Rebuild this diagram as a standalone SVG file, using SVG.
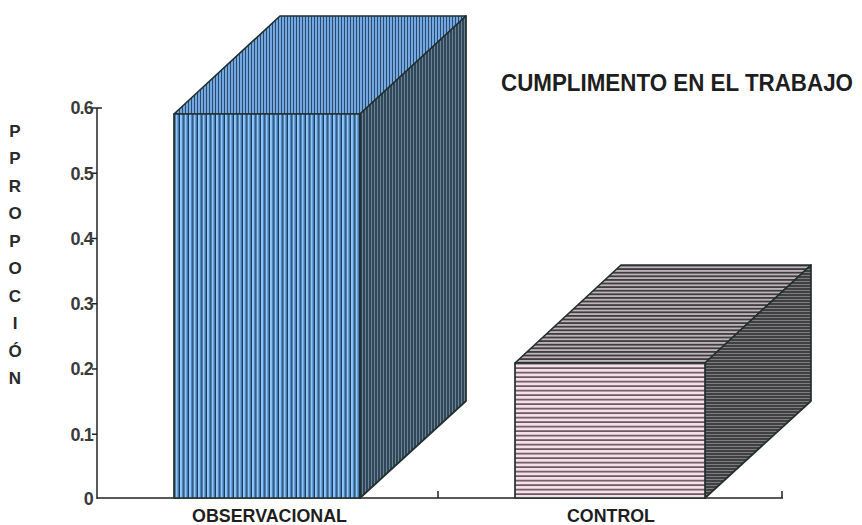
<svg xmlns="http://www.w3.org/2000/svg" width="862" height="525" viewBox="0 0 862 525">
<style>
.t{font-family:"Liberation Sans",Arial,sans-serif;font-weight:bold;fill:#1e1e1e}
.tick{font-size:18px;fill:#3a3a3a;text-anchor:end;letter-spacing:-0.8px}
.ylab{font-size:17px;text-anchor:middle;fill:#2a2a2a}
.edge{stroke:#22302e;stroke-width:1.7;stroke-linejoin:round}
.ax{stroke:#222;stroke-width:1.5;fill:none}
</style>
<defs>
<pattern id="bFront" width="4.5" height="10" patternUnits="userSpaceOnUse">
<rect width="4.5" height="10" fill="#92c8f4"/>
<rect x="2" width="1.2" height="10" fill="#3c82d0"/>
<rect x="3.2" width="1.3" height="10" fill="#1c3858"/>
</pattern>
<pattern id="bTop" width="3" height="10" patternUnits="userSpaceOnUse">
<rect width="3" height="10" fill="#74a8e0"/>
<rect x="2" width="1" height="10" fill="#2a4a70"/>
</pattern>
<pattern id="bSide" width="3" height="10" patternUnits="userSpaceOnUse">
<rect width="3" height="10" fill="#30475a"/>
<rect x="2" width="1" height="10" fill="#6a8496"/>
</pattern>
<pattern id="pFront" width="10" height="4.5" patternUnits="userSpaceOnUse">
<rect width="10" height="4.5" fill="#f4e0e8"/>
<rect y="2.8" width="10" height="1.7" fill="#6e5660"/>
</pattern>
<pattern id="pTop" width="10" height="3.6" patternUnits="userSpaceOnUse">
<rect width="10" height="3.6" fill="#bdb4b9"/>
<rect y="1.8" width="10" height="1.8" fill="#403c3e"/>
</pattern>
<pattern id="pSide" width="10" height="3" patternUnits="userSpaceOnUse">
<rect width="10" height="3" fill="#404042"/>
<rect y="2" width="10" height="1" fill="#7e7e80"/>
</pattern>
</defs>
<rect width="862" height="525" fill="#ffffff"/>

<g id="axes">
<line class="ax" x1="97" y1="108" x2="97" y2="499"/>
<line class="ax" x1="97" y1="498" x2="783" y2="498"/>
<path class="ax" d="M92 108H102M92 173.3H97M92 238.5H97M92 303.8H97M92 369H97M92 434.3H97M438 491V498M782 491V498"/>
<text class="t tick" x="93" y="114">0.6</text>
<text class="t tick" x="93" y="180">0.5</text>
<text class="t tick" x="93" y="245">0.4</text>
<text class="t tick" x="93" y="310">0.3</text>
<text class="t tick" x="93" y="375">0.2</text>
<text class="t tick" x="93" y="441">0.1</text>
<text class="t tick" x="93" y="505">0</text>
</g>

<g id="y-title" class="t ylab">
<text x="15" y="137">P</text>
<text x="15" y="164">P</text>
<text x="15" y="192">R</text>
<text x="15" y="219">O</text>
<text x="15" y="247">P</text>
<text x="15" y="274">O</text>
<text x="15" y="302">C</text>
<text x="15" y="329">I</text>
<text x="15" y="357">Ó</text>
<text x="15" y="384">N</text>
</g>

<text id="title" class="t" x="501" y="91" font-size="23" textLength="352" lengthAdjust="spacingAndGlyphs">CUMPLIMENTO EN EL TRABAJO</text>

<g id="bar-observacional">
<polygon class="edge" points="174,114 280,16 466,16 360,114" fill="url(#bTop)"/>
<polygon class="edge" points="360,114 466,16 466,401 360,498" fill="url(#bSide)"/>
<rect class="edge" x="174" y="114" width="186" height="384" fill="url(#bFront)"/>
</g>

<g id="bar-control">
<polygon class="edge" points="515,363 621,265 811,265 705,363" fill="url(#pTop)"/>
<polygon class="edge" points="705,363 811,265 811,401 705,498" fill="url(#pSide)"/>
<rect class="edge" x="515" y="363" width="190" height="135" fill="url(#pFront)"/>
</g>

<g id="x-labels" class="t">
<text x="192" y="522" font-size="18" textLength="155" lengthAdjust="spacingAndGlyphs">OBSERVACIONAL</text>
<text x="567" y="522" font-size="18" textLength="88" lengthAdjust="spacingAndGlyphs">CONTROL</text>
</g>
</svg>
